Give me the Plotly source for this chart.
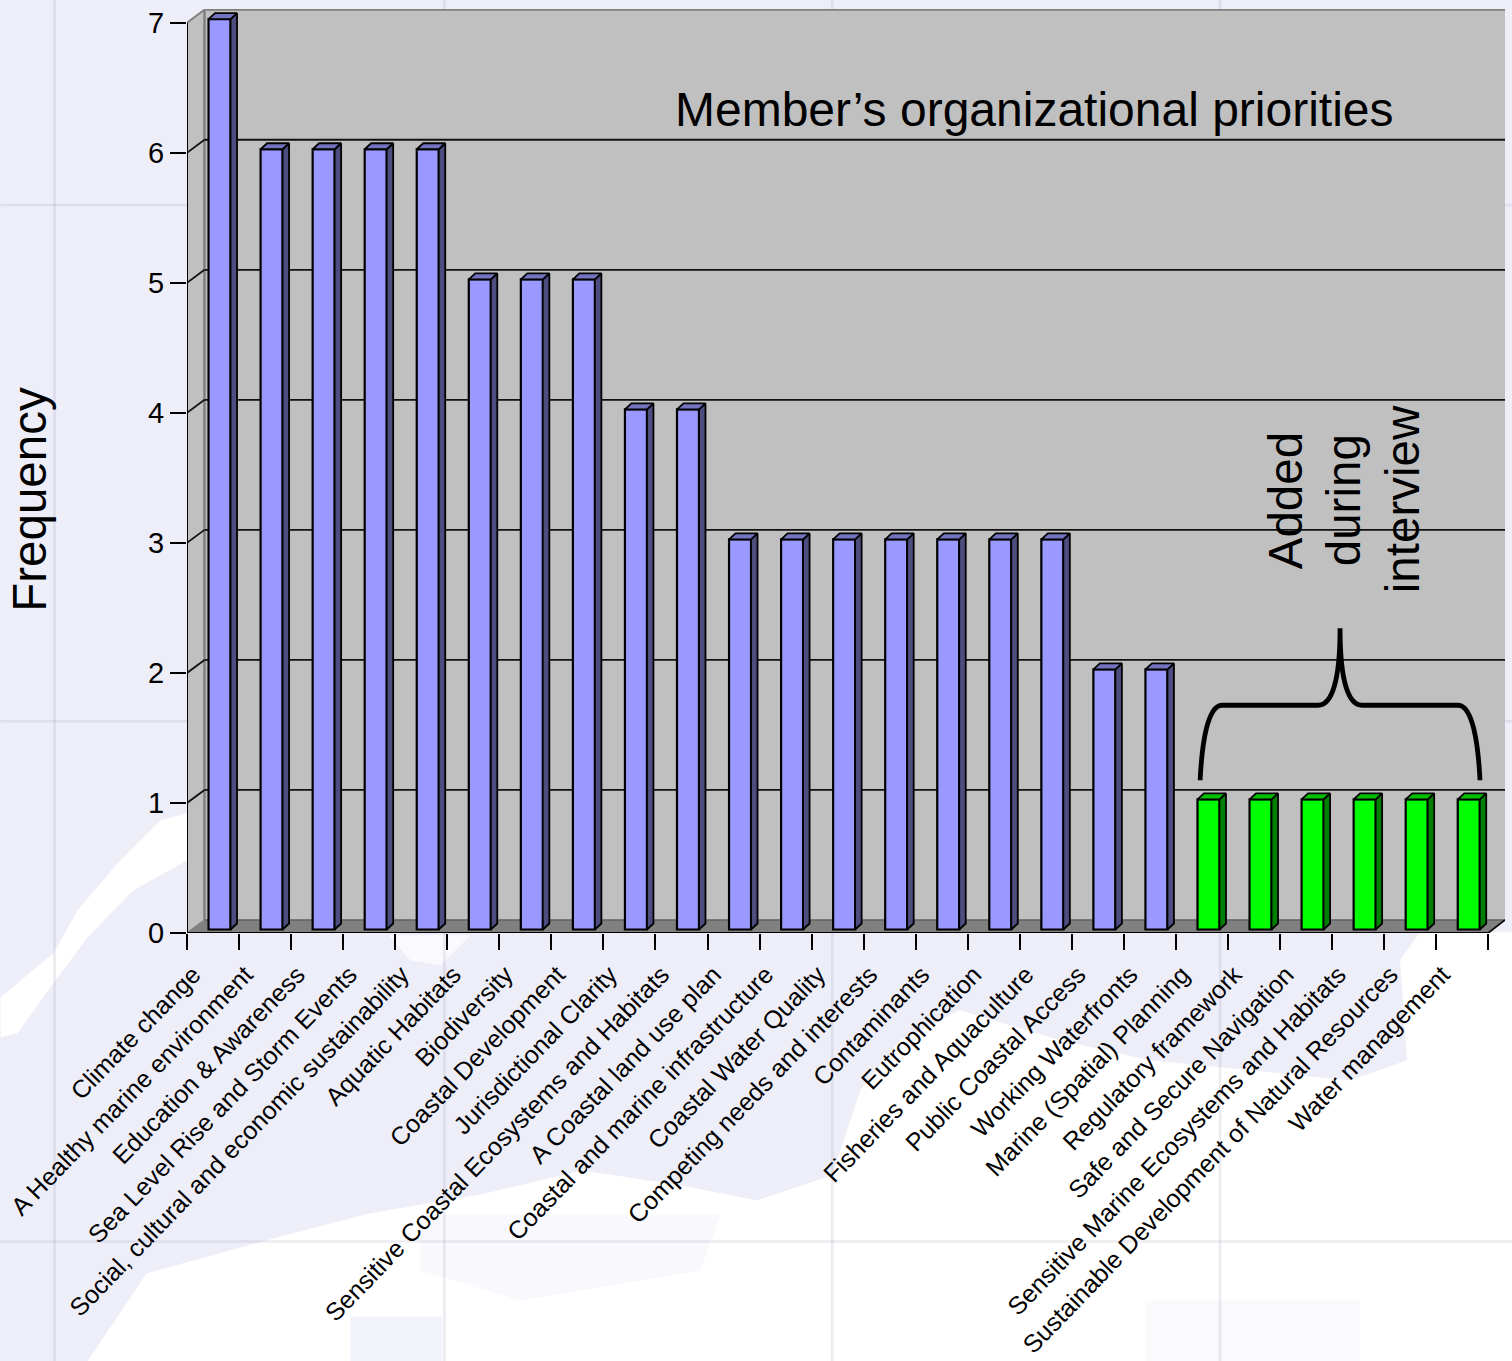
import plotly.graph_objects as go

categories = ["Climate change", "A Healthy marine environment", "Education & Awareness",
    "Sea Level Rise and Storm Events", "Social, cultural and economic sustainability",
    "Aquatic Habitats", "Biodiversity", "Coastal Development", "Jurisdictional Clarity",
    "Sensitive Coastal Ecosystems and Habitats", "A Coastal land use plan",
    "Coastal and marine infrastructure", "Coastal Water Quality", "Competing needs and interests",
    "Contaminants", "Eutrophication", "Fisheries and Aquaculture", "Public Coastal Access",
    "Working Waterfronts", "Marine (Spatial) Planning", "Regulatory framework",
    "Safe and Secure Navigation", "Sensitive Marine Ecosystems and Habitats",
    "Sustainable Development of Natural Resources", "Water management"]
values = [7, 6, 6, 6, 6, 5, 5, 5, 4, 4, 3, 3, 3, 3, 3, 3, 3, 2, 2, 1, 1, 1, 1, 1, 1]
added_during_interview = [0]*19 + [1]*6
y_ticks = [0, 1, 2, 3, 4, 5, 6, 7]

W, H = 1512, 1361
PX0, PY0 = 186.5, 932.7          # pixel of the axis origin
UX, UY = 52.07, 130.0            # pixels per category / per frequency unit
L, T, R = 186.5, 9.0, 1505.0
XMAX, YMAX = (R - L) / UX, (PY0 - T) / UY
plot_w, plot_h = R - L, PY0 - T
WX, WY = 17.5 / UX, 13.0 / UY    # depth of the back wall
DX, DY = 6.5 / UX, 6.0 / UY      # depth of a bar
BASE, BW, OFF = 3.5 / UY, 22.0 / UX, 0.625
LABEL_SHIFT = 0.12
N = len(categories)

def X(px): return (px - PX0) / UX
def Y(px): return (PY0 - px) / UY
def PXF(px): return (px - L) / plot_w
def PYF(py): return (PY0 - py) / plot_h
def poly(pts): return "M" + " L".join(f"{a:.4f},{b:.4f}" for a, b in pts) + " Z"
def ppoly(pts): return poly([(PXF(a), PYF(b)) for a, b in pts])

shapes = []
def bgshape(pts, fill):
    shapes.append(dict(type="path", path=ppoly(pts), xref="paper", yref="paper", layer="below",
                       fillcolor=fill, line=dict(width=0)))

# faint map behind the chart
WHITE_SEA = [(87, 1361), (146, 1273), (291, 1233), (369, 1213), (485, 1193), (582, 1170), (680, 1185),
             (757, 1200), (832, 1175), (860, 1090), (900, 1040), (960, 1010), (1060, 1040), (1150, 1060),
             (1250, 1070), (1350, 1080), (1407, 1060), (1400, 960), (1420, 932), (1512, 932), (1512, 1361)]
WHITE_BAND = [(0, 997), (53, 953), (77, 910), (117, 863), (160, 820), (187, 813), (187, 860),
              (133, 890), (87, 937), (50, 987), (17, 1033), (0, 1037)]
WHITE_SPOT = [(388, 935), (470, 935), (440, 965), (410, 960)]
LAV_STRIP = [(350, 1316), (442, 1316), (442, 1361), (350, 1361)]
PALE_A = [(420, 1215), (720, 1215), (700, 1270), (520, 1300), (420, 1270)]
PALE_B = [(1145, 1300), (1360, 1300), (1360, 1361), (1145, 1361)]
bgshape(WHITE_SEA, "#FFFFFF")
bgshape(WHITE_BAND, "#FFFFFF")
bgshape(WHITE_SPOT, "#FAFAFE")
bgshape(PALE_A, "#F8F8FD")
bgshape(PALE_B, "#FAFAFD")
bgshape(LAV_STRIP, "#F3F3FB")
for vx in (54, 444, 832, 1220):
    shapes.append(dict(type="line", xref="paper", yref="paper", layer="below", x0=PXF(vx), x1=PXF(vx),
                       y0=PYF(0), y1=PYF(H), line=dict(color="rgba(110,110,150,0.14)", width=2.5)))
for hy in (205, 721, 1241):
    shapes.append(dict(type="line", xref="paper", yref="paper", layer="below", x0=PXF(0), x1=PXF(W),
                       y0=PYF(hy), y1=PYF(hy), line=dict(color="rgba(110,110,150,0.12)", width=2.5)))

def add(path, fill, color=None, width=0, layer="below"):
    shapes.append(dict(type="path", path=path, xref="x", yref="y", layer=layer, fillcolor=fill,
                       line=dict(color=color or "rgba(0,0,0,0)", width=width)))
def seg(x0, y0, x1, y1, color="black", width=1.5, layer="below"):
    shapes.append(dict(type="line", x0=x0, y0=y0, x1=x1, y1=y1, xref="x", yref="y", layer=layer,
                       line=dict(color=color, width=width)))

# walls and floor
add(poly([(WX, WY), (XMAX, WY), (XMAX, 7 + WY), (WX, 7 + WY)]), "#C0C0C0")
add(poly([(0, 0), (WX, WY), (WX, 7 + WY), (0, 7)]), "#C0C0C0")
add(poly([(0, 0), (N, 0), (XMAX, WY), (WX, WY)]), "#808080")
seg(0, 7, WX, 7 + WY, "#808080", 2)
seg(WX, WY, WX, 7 + WY, "#808080", 2.5)
seg(WX, 7 + WY, XMAX, 7 + WY, "#808080", 2)
seg(WX, WY, XMAX, WY, "#606060", 1.5)
seg(0, 0, WX, WY, "#808080", 1.5)
seg(N, 0, XMAX, WY, "black", 1.6)
for t in y_ticks[1:-1]:
    seg(WX, t + WY, XMAX, t + WY, "#111111", 1.8)
    seg(0, t, WX, t + WY, "#111111", 1.8)
seg(0, 0, N, 0, "black", 2)
seg(0, 0, 0, 7, "black", 2)

def faces(idx):
    sx, sy, tx, ty = [], [], [], []
    for i in idx:
        l = i + OFF - BW / 2
        r = i + OFF + BW / 2
        b = BASE
        v = values[i] + BASE
        sx += [r, r + DX, r + DX, r, r, None]
        sy += [b, b + DY, v + DY, v, b, None]
        tx += [l, l + DX, r + DX, r, l, None]
        ty += [v, v + DY, v + DY, v, v, None]
    return sx, sy, tx, ty

blue = [i for i in range(N) if not added_during_interview[i]]
green = [i for i in range(N) if added_during_interview[i]]
fig = go.Figure()
for idx, front, side, top in ((blue, "#9999FF", "#4D4D80", "#7373BF"),
                              (green, "#00FF00", "#008000", "#00BF00")):
    fig.add_trace(go.Bar(x=[i + OFF for i in idx], y=[values[i] for i in idx], base=BASE, width=BW,
                         marker=dict(color=front, line=dict(color="black", width=2.2)), showlegend=False))
    sx, sy, tx, ty = faces(idx)
    for xs, ys, c in ((sx, sy, side), (tx, ty, top)):
        fig.add_trace(go.Scatter(x=xs, y=ys, mode="lines", fill="toself", fillcolor=c,
                                 line=dict(color="black", width=1.8), showlegend=False, hoverinfo="skip"))

# brace
brace = (f"M{X(1200)},{Y(780)} C{X(1202)},{Y(740)} {X(1208)},{Y(705)} {X(1222)},{Y(705)} "
         f"L{X(1318)},{Y(705)} C{X(1332)},{Y(705)} {X(1340)},{Y(680)} {X(1340)},{Y(628)} "
         f"C{X(1340)},{Y(680)} {X(1348)},{Y(705)} {X(1362)},{Y(705)} "
         f"L{X(1458)},{Y(705)} C{X(1472)},{Y(705)} {X(1478)},{Y(740)} {X(1480)},{Y(780)}")
shapes.append(dict(type="path", path=brace, xref="x", yref="y", layer="above",
                   line=dict(color="black", width=4.8)))

FONT = "Liberation Sans, Arial, sans-serif"
def pnote(text, px, py, size=47.5, angle=0):
    return dict(text=text, x=PXF(px), y=PYF(py), xref="paper", yref="paper",
                showarrow=False, xanchor="center", yanchor="middle", textangle=angle,
                font=dict(family=FONT, size=size, color="black"))

fig.update_layout(
    width=W, height=H, autosize=False, barmode="overlay", showlegend=False,
    paper_bgcolor="#EEEEF9", plot_bgcolor="rgba(0,0,0,0)",
    margin=dict(l=L, r=W - R, t=T, b=H - PY0, pad=0),
    shapes=shapes,
    annotations=[
        pnote("Member’s organizational priorities", 1034, 109, size=48),
        pnote("Frequency", 29, 499, angle=-90),
        pnote("Added", 1285, 501, angle=-90),
        pnote("during", 1343, 500, angle=-90),
        pnote("interview", 1402, 499, angle=-90),
    ],
    font=dict(family=FONT, color="black"),
    xaxis=dict(range=[0, XMAX], tickmode="array", tickvals=[i + LABEL_SHIFT for i in range(N)], ticktext=categories,
               tickangle=-46, tickfont=dict(size=25, family=FONT), ticks="outside", ticklen=16,
               ticklabeloverflow="allow",
               tickcolor="rgba(0,0,0,0)", showgrid=False, zeroline=False, showline=False,
               minor=dict(tickmode="array", tickvals=list(range(N + 1)), ticks="outside", ticklen=16,
                          tickwidth=1.8, tickcolor="black", showgrid=False),
               automargin=False),
    yaxis=dict(range=[0, YMAX], tickmode="array", tickvals=y_ticks, ticks="outside", ticklen=16,
               tickwidth=1.8, tickcolor="black", tickfont=dict(size=29, family=FONT), showgrid=False,
               zeroline=False, showline=False, automargin=False),
)
fig.write_html("out.html", config={"displayModeBar": False},
               post_script="document.body.style.margin='0';document.body.style.background='#EEEEF9';")
